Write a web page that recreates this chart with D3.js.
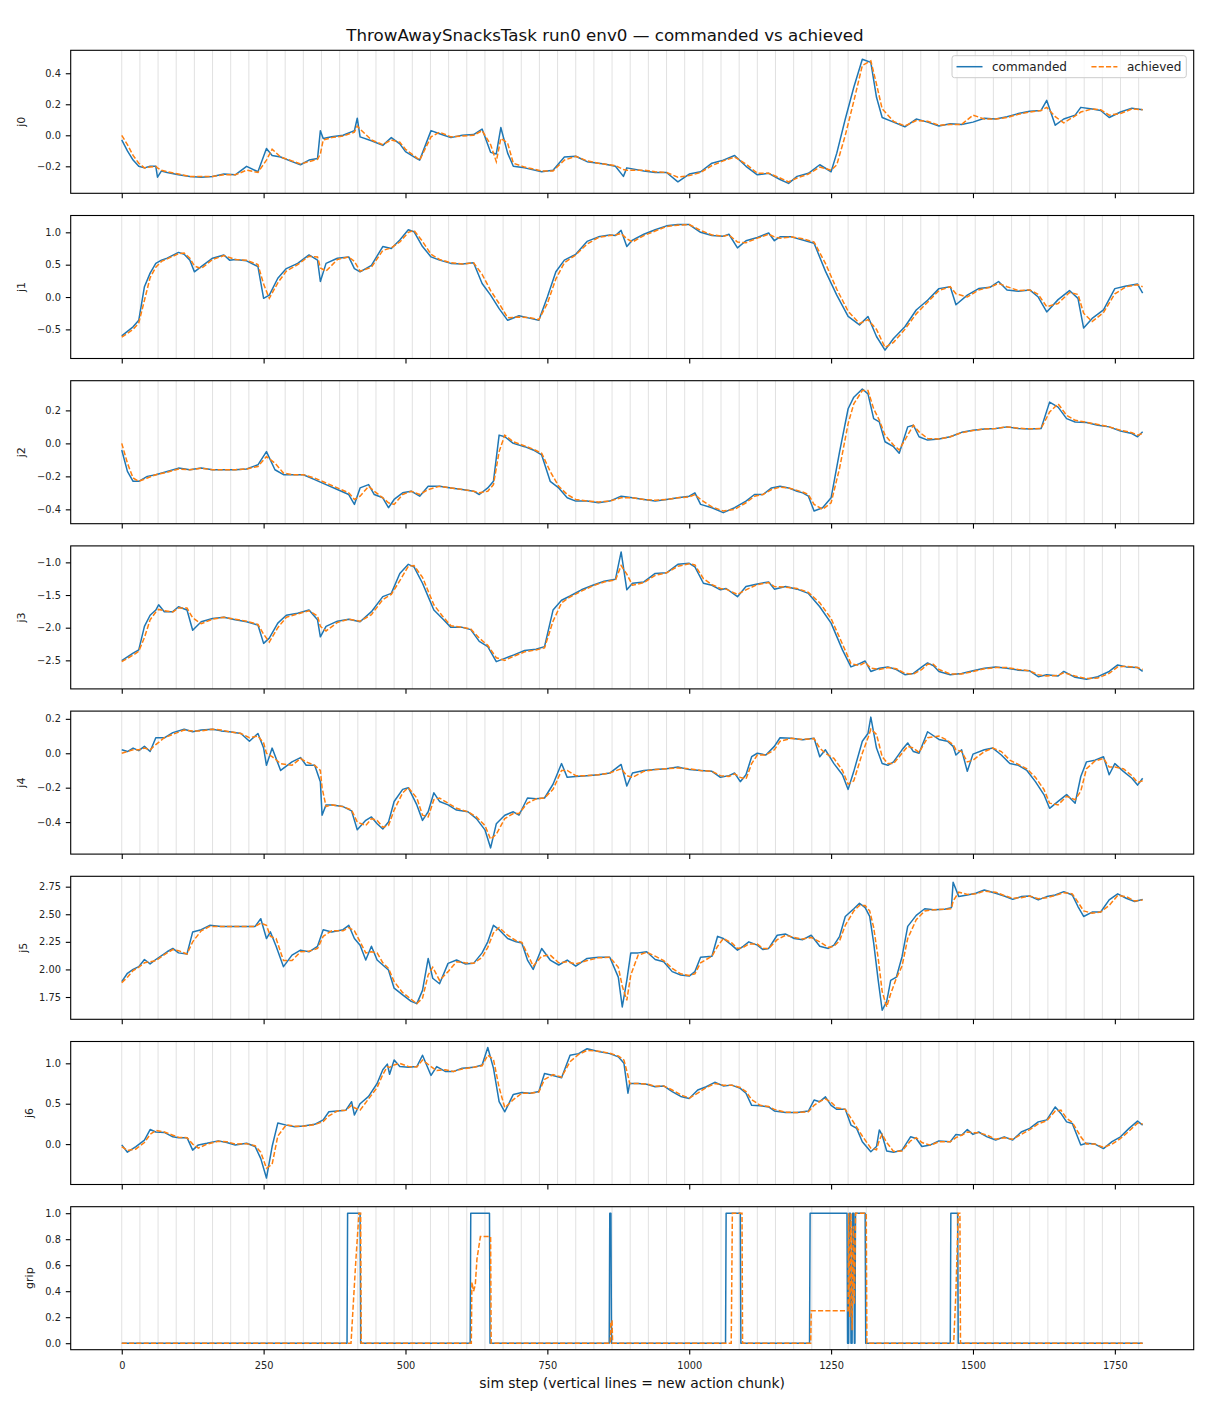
<!DOCTYPE html>
<html>
<head>
<meta charset="utf-8">
<script src="https://cdn.jsdelivr.net/npm/d3@7"></script>
<style>
  body { margin: 0; background: #fff; }
  svg { display: block; font-family: "DejaVu Sans", sans-serif; }
</style>
</head>
<body>
<div id="chart"></div>
<script>
// ---- data (sim step -> joint value) ----
const j0Steps = [0,10,20,30,40,50,60,63,70,80,
  100,120,140,160,180,200,220,240,255,265,
  280,300,315,330,345,350,355,370,390,410,
  415,420,440,460,475,490,500,520,525,545,
  560,580,600,620,635,650,660,668,680,690,
  710,740,760,780,800,820,840,850,870,884,
  890,920,940,960,980,1000,1020,1040,1060,1080,
  1100,1120,1140,1160,1175,1190,1210,1230,1250,1260,
  1275,1290,1305,1320,1330,1340,1360,1380,1400,1420,
  1440,1460,1480,1500,1520,1540,1560,1580,1600,1620,
  1630,1645,1660,1680,1690,1710,1725,1740,1760,1780,
  1799];
const j0Cmd = [-0.03,-0.10,-0.16,-0.20,-0.21,-0.20,-0.20,-0.27,-0.23,-0.24,
  -0.255,-0.265,-0.27,-0.265,-0.25,-0.255,-0.20,-0.235,-0.085,-0.13,
  -0.14,-0.17,-0.19,-0.16,-0.15,0.03,-0.02,-0.01,0.0,0.03,
  0.11,-0.01,-0.035,-0.065,-0.015,-0.055,-0.105,-0.15,-0.16,0.03,
  0.01,-0.015,0.0,0.005,0.04,-0.11,-0.12,0.05,-0.115,-0.20,
  -0.21,-0.235,-0.225,-0.14,-0.135,-0.17,-0.18,-0.185,-0.20,-0.265,
  -0.21,-0.23,-0.24,-0.24,-0.30,-0.25,-0.235,-0.18,-0.16,-0.13,
  -0.20,-0.255,-0.245,-0.285,-0.31,-0.265,-0.245,-0.19,-0.235,-0.115,
  0.105,0.31,0.49,0.47,0.245,0.115,0.085,0.055,0.105,0.085,
  0.06,0.075,0.07,0.085,0.11,0.105,0.12,0.14,0.155,0.16,
  0.225,0.065,0.105,0.13,0.18,0.17,0.16,0.115,0.15,0.175,
  0.165];
const j0Ach = [0.0,-0.06,-0.13,-0.18,-0.21,-0.205,-0.20,-0.21,-0.225,-0.235,
  -0.25,-0.265,-0.265,-0.265,-0.255,-0.255,-0.225,-0.24,-0.16,-0.09,
  -0.14,-0.165,-0.185,-0.17,-0.155,-0.12,-0.03,-0.015,-0.005,0.02,
  0.06,0.04,-0.03,-0.06,-0.03,-0.045,-0.09,-0.145,-0.16,-0.01,
  0.02,-0.01,-0.005,0.0,0.03,-0.06,-0.17,-0.02,-0.05,-0.18,
  -0.205,-0.23,-0.23,-0.16,-0.135,-0.165,-0.18,-0.185,-0.195,-0.22,
  -0.225,-0.225,-0.235,-0.24,-0.27,-0.26,-0.24,-0.195,-0.165,-0.14,
  -0.185,-0.245,-0.245,-0.275,-0.30,-0.275,-0.25,-0.205,-0.225,-0.19,
  0.0,0.22,0.45,0.48,0.33,0.17,0.09,0.06,0.095,0.09,
  0.065,0.07,0.07,0.13,0.105,0.105,0.115,0.135,0.15,0.16,
  0.18,0.12,0.08,0.125,0.15,0.17,0.165,0.13,0.14,0.17,
  0.165];

const j1Steps = [0,20,30,40,50,60,70,80,100,110,
  120,128,140,160,180,190,200,220,240,250,
  260,275,290,310,330,345,350,360,380,400,
  410,420,440,460,475,490,505,515,530,545,
  560,580,600,620,635,650,665,680,700,720,
  735,750,765,780,800,820,840,860,870,880,
  890,900,920,940,960,980,1000,1020,1040,1060,
  1070,1085,1100,1120,1140,1150,1160,1180,1200,1220,
  1240,1260,1280,1300,1315,1330,1345,1360,1380,1400,
  1420,1440,1460,1470,1490,1510,1530,1545,1560,1580,
  1600,1615,1630,1650,1670,1685,1695,1710,1730,1750,
  1770,1790,1799];
const j1Cmd = [-0.60,-0.46,-0.36,0.16,0.37,0.52,0.57,0.60,0.69,0.66,
  0.57,0.39,0.47,0.60,0.65,0.57,0.58,0.56,0.47,-0.02,
  0.03,0.29,0.44,0.52,0.65,0.57,0.24,0.52,0.60,0.62,
  0.44,0.39,0.49,0.78,0.75,0.88,1.04,1.01,0.78,0.62,
  0.57,0.52,0.51,0.53,0.21,0.03,-0.18,-0.36,-0.29,-0.33,
  -0.36,0.0,0.39,0.57,0.66,0.86,0.93,0.96,0.95,1.03,
  0.78,0.88,0.97,1.04,1.10,1.12,1.12,1.00,0.95,0.94,
  0.97,0.76,0.87,0.92,0.99,0.87,0.93,0.93,0.88,0.83,
  0.40,0.03,-0.30,-0.43,-0.30,-0.61,-0.82,-0.64,-0.46,-0.20,
  -0.05,0.13,0.16,-0.12,0.03,0.13,0.15,0.24,0.11,0.09,
  0.11,0.0,-0.23,-0.04,0.10,-0.02,-0.48,-0.33,-0.20,0.13,
  0.17,0.20,0.06];
const j1Ach = [-0.62,-0.50,-0.40,-0.05,0.30,0.46,0.55,0.59,0.67,0.68,
  0.60,0.48,0.44,0.58,0.64,0.61,0.58,0.57,0.50,0.20,
  -0.02,0.22,0.40,0.50,0.63,0.62,0.45,0.40,0.58,0.62,
  0.55,0.40,0.46,0.72,0.76,0.85,1.00,1.03,0.86,0.66,
  0.58,0.53,0.51,0.53,0.35,0.10,-0.10,-0.32,-0.31,-0.32,
  -0.35,-0.10,0.28,0.53,0.65,0.82,0.92,0.95,0.96,0.98,
  0.90,0.85,0.95,1.02,1.09,1.11,1.12,1.03,0.96,0.94,
  0.96,0.85,0.84,0.91,0.97,0.93,0.91,0.93,0.90,0.85,
  0.52,0.12,-0.22,-0.41,-0.35,-0.50,-0.78,-0.70,-0.50,-0.26,
  -0.08,0.10,0.16,0.05,0.00,0.11,0.15,0.21,0.16,0.10,
  0.11,0.04,-0.15,-0.10,0.07,0.04,-0.25,-0.38,-0.24,0.05,
  0.16,0.19,0.16];

const j2Steps = [0,10,20,30,45,60,80,100,120,140,
  160,180,200,220,240,255,270,285,300,320,
  340,360,380,400,410,420,435,445,460,470,
  480,495,510,525,540,560,580,600,620,630,
  645,655,665,675,690,710,725,740,755,770,
  785,800,820,840,860,880,900,920,940,960,
  980,1000,1010,1020,1040,1060,1080,1100,1115,1130,
  1145,1160,1175,1190,1200,1210,1220,1235,1250,1265,
  1280,1290,1305,1315,1325,1335,1345,1360,1370,1385,
  1395,1405,1420,1440,1460,1480,1500,1520,1540,1560,
  1580,1600,1620,1635,1650,1665,1680,1700,1720,1740,
  1760,1780,1790,1799];
const j2Cmd = [-0.04,-0.17,-0.23,-0.23,-0.20,-0.19,-0.17,-0.15,-0.16,-0.15,
  -0.16,-0.16,-0.16,-0.155,-0.13,-0.05,-0.16,-0.19,-0.19,-0.19,
  -0.22,-0.25,-0.28,-0.31,-0.37,-0.27,-0.25,-0.31,-0.33,-0.39,
  -0.34,-0.30,-0.29,-0.32,-0.26,-0.26,-0.27,-0.28,-0.29,-0.31,
  -0.27,-0.23,0.05,0.04,0.0,-0.02,-0.04,-0.07,-0.23,-0.27,
  -0.33,-0.35,-0.35,-0.36,-0.35,-0.32,-0.33,-0.34,-0.35,-0.34,
  -0.33,-0.32,-0.30,-0.37,-0.39,-0.42,-0.39,-0.35,-0.31,-0.31,
  -0.27,-0.26,-0.27,-0.29,-0.30,-0.32,-0.41,-0.39,-0.33,-0.05,
  0.21,0.28,0.33,0.30,0.15,0.13,0.01,-0.02,-0.06,0.10,
  0.11,0.04,0.02,0.026,0.04,0.067,0.08,0.087,0.09,0.10,
  0.09,0.087,0.09,0.25,0.22,0.15,0.13,0.127,0.11,0.10,
  0.075,0.06,0.04,0.07];
const j2Ach = [0.0,-0.12,-0.21,-0.23,-0.21,-0.19,-0.175,-0.155,-0.16,-0.15,
  -0.16,-0.16,-0.16,-0.155,-0.14,-0.08,-0.12,-0.18,-0.19,-0.19,
  -0.21,-0.24,-0.27,-0.30,-0.34,-0.32,-0.26,-0.29,-0.33,-0.36,
  -0.37,-0.31,-0.29,-0.31,-0.28,-0.26,-0.27,-0.28,-0.29,-0.30,
  -0.29,-0.25,-0.05,0.05,0.01,-0.015,-0.035,-0.06,-0.17,-0.26,
  -0.31,-0.34,-0.35,-0.355,-0.35,-0.33,-0.33,-0.34,-0.345,-0.34,
  -0.33,-0.325,-0.31,-0.34,-0.385,-0.41,-0.40,-0.36,-0.32,-0.31,
  -0.28,-0.265,-0.27,-0.285,-0.295,-0.31,-0.37,-0.40,-0.36,-0.15,
  0.12,0.24,0.32,0.32,0.21,0.14,0.05,-0.01,-0.04,0.05,
  0.11,0.07,0.03,0.026,0.04,0.065,0.078,0.087,0.09,0.10,
  0.092,0.088,0.09,0.19,0.24,0.17,0.14,0.128,0.115,0.10,
  0.08,0.065,0.05,0.06];

const j3Steps = [0,20,30,40,50,60,65,75,90,100,
  115,125,140,160,180,200,220,240,250,260,
  275,290,310,330,345,350,360,380,400,420,
  440,460,475,490,505,515,530,540,550,565,
  580,600,615,630,645,660,675,690,710,730,
  745,760,775,790,810,830,850,870,880,890,
  900,920,940,960,980,1000,1010,1025,1040,1055,
  1065,1085,1100,1120,1140,1150,1170,1190,1210,1230,
  1250,1270,1285,1300,1310,1320,1335,1350,1365,1380,
  1395,1410,1420,1430,1440,1460,1480,1500,1520,1540,
  1560,1580,1600,1615,1630,1650,1660,1680,1700,1720,
  1740,1755,1770,1790,1799];
const j3Cmd = [-2.505,-2.39,-2.34,-1.98,-1.81,-1.73,-1.65,-1.755,-1.755,-1.68,
  -1.73,-2.04,-1.91,-1.86,-1.84,-1.88,-1.91,-1.96,-2.24,-2.16,
  -1.93,-1.81,-1.78,-1.73,-1.88,-2.14,-1.98,-1.90,-1.87,-1.91,
  -1.755,-1.525,-1.475,-1.17,-1.03,-1.07,-1.32,-1.525,-1.73,-1.86,
  -1.995,-1.995,-2.03,-2.21,-2.29,-2.52,-2.47,-2.42,-2.35,-2.33,
  -2.29,-1.73,-1.58,-1.515,-1.42,-1.35,-1.29,-1.26,-0.84,-1.42,
  -1.32,-1.30,-1.17,-1.16,-1.03,-1.015,-1.07,-1.32,-1.35,-1.42,
  -1.40,-1.525,-1.37,-1.33,-1.30,-1.41,-1.37,-1.41,-1.475,-1.68,
  -1.93,-2.34,-2.60,-2.55,-2.51,-2.67,-2.62,-2.60,-2.64,-2.72,
  -2.70,-2.60,-2.54,-2.58,-2.67,-2.72,-2.70,-2.66,-2.62,-2.60,
  -2.62,-2.65,-2.66,-2.75,-2.72,-2.74,-2.67,-2.76,-2.79,-2.75,
  -2.67,-2.57,-2.60,-2.61,-2.67];
const j3Ach = [-2.52,-2.42,-2.36,-2.15,-1.88,-1.76,-1.72,-1.74,-1.76,-1.70,
  -1.70,-1.85,-1.94,-1.87,-1.84,-1.87,-1.90,-1.95,-2.10,-2.22,
  -2.00,-1.84,-1.79,-1.74,-1.82,-1.98,-2.05,-1.92,-1.87,-1.90,
  -1.80,-1.57,-1.49,-1.28,-1.06,-1.05,-1.23,-1.44,-1.65,-1.82,
  -1.97,-1.995,-2.02,-2.16,-2.27,-2.46,-2.50,-2.44,-2.37,-2.34,
  -2.31,-1.90,-1.62,-1.53,-1.44,-1.36,-1.30,-1.27,-1.05,-1.18,
  -1.35,-1.31,-1.20,-1.16,-1.06,-1.02,-1.04,-1.25,-1.34,-1.40,
  -1.41,-1.49,-1.42,-1.34,-1.31,-1.37,-1.38,-1.40,-1.46,-1.62,
  -1.86,-2.25,-2.55,-2.58,-2.53,-2.62,-2.64,-2.61,-2.63,-2.70,
  -2.71,-2.64,-2.56,-2.56,-2.64,-2.71,-2.71,-2.67,-2.63,-2.61,
  -2.61,-2.64,-2.66,-2.72,-2.74,-2.73,-2.69,-2.74,-2.78,-2.77,
  -2.70,-2.60,-2.59,-2.61,-2.64];

const j4Steps = [0,10,20,30,40,50,60,75,90,110,
  125,140,160,175,190,210,225,240,250,255,
  265,280,300,315,325,340,350,353,360,370,
  390,405,415,430,440,450,460,470,480,495,
  505,520,530,540,550,560,575,590,610,625,
  640,650,660,675,690,700,715,730,745,760,
  775,785,800,820,840,860,880,890,900,920,
  940,960,980,1000,1020,1040,1055,1070,1080,1090,
  1100,1110,1120,1135,1150,1160,1180,1200,1220,1230,
  1240,1255,1270,1280,1290,1305,1315,1320,1330,1340,
  1350,1360,1375,1385,1395,1405,1420,1440,1455,1465,
  1470,1480,1490,1500,1520,1535,1550,1565,1580,1595,
  1610,1625,1635,1650,1665,1680,1690,1700,1715,1730,
  1740,1750,1765,1780,1790,1799];
const j4Cmd = [0.02,0.01,0.03,0.015,0.04,0.01,0.09,0.09,0.12,0.14,
  0.125,0.135,0.14,0.13,0.125,0.115,0.07,0.115,0.03,-0.07,
  0.03,-0.10,-0.05,-0.025,-0.07,-0.07,-0.165,-0.36,-0.30,-0.30,
  -0.31,-0.335,-0.445,-0.39,-0.37,-0.41,-0.44,-0.40,-0.28,-0.21,
  -0.20,-0.30,-0.39,-0.34,-0.23,-0.28,-0.30,-0.33,-0.34,-0.38,
  -0.445,-0.55,-0.41,-0.36,-0.34,-0.36,-0.26,-0.265,-0.26,-0.18,
  -0.06,-0.14,-0.135,-0.13,-0.125,-0.115,-0.065,-0.19,-0.115,-0.10,
  -0.095,-0.09,-0.08,-0.095,-0.10,-0.105,-0.14,-0.13,-0.115,-0.165,
  -0.125,-0.02,0.0,-0.01,0.04,0.09,0.087,0.078,0.087,-0.02,
  0.02,-0.06,-0.125,-0.21,-0.105,0.07,0.115,0.21,0.03,-0.06,
  -0.07,-0.05,0.02,0.06,0.01,0.0,0.125,0.08,0.07,0.04,
  -0.01,0.02,-0.105,-0.005,0.02,0.03,-0.01,-0.06,-0.07,-0.10,
  -0.165,-0.24,-0.32,-0.28,-0.24,-0.29,-0.135,-0.05,-0.04,-0.02,
  -0.125,-0.06,-0.105,-0.145,-0.185,-0.145];
const j4Ach = [0.0,0.01,0.02,0.02,0.03,0.02,0.05,0.09,0.11,0.135,
  0.13,0.13,0.14,0.135,0.125,0.115,0.09,0.10,0.06,0.0,
  -0.02,-0.06,-0.07,-0.03,-0.05,-0.07,-0.10,-0.20,-0.31,-0.30,
  -0.31,-0.33,-0.40,-0.42,-0.38,-0.39,-0.43,-0.42,-0.33,-0.23,
  -0.20,-0.26,-0.36,-0.37,-0.27,-0.26,-0.29,-0.32,-0.34,-0.37,
  -0.42,-0.50,-0.47,-0.38,-0.35,-0.35,-0.29,-0.265,-0.26,-0.21,
  -0.10,-0.10,-0.13,-0.13,-0.125,-0.115,-0.09,-0.13,-0.14,-0.105,
  -0.095,-0.09,-0.085,-0.09,-0.10,-0.105,-0.13,-0.135,-0.12,-0.14,
  -0.15,-0.06,-0.01,-0.01,0.02,0.07,0.087,0.08,0.085,0.03,
  0.0,-0.03,-0.10,-0.18,-0.16,0.0,0.09,0.14,0.11,-0.02,
  -0.06,-0.06,0.0,0.04,0.03,0.005,0.09,0.10,0.075,0.05,
  0.02,0.01,-0.05,-0.04,0.01,0.03,0.01,-0.04,-0.065,-0.09,
  -0.14,-0.21,-0.29,-0.30,-0.25,-0.27,-0.22,-0.09,-0.045,-0.03,
  -0.08,-0.08,-0.09,-0.13,-0.17,-0.16];

const j5Steps = [0,10,20,30,40,50,60,80,90,100,
  115,125,140,155,175,195,215,235,245,255,
  262,272,285,300,315,330,345,355,370,390,
  400,410,420,430,440,450,460,470,480,495,
  510,520,530,540,548,560,575,590,605,620,
  635,645,655,665,680,695,705,715,725,740,
  755,770,785,800,820,840,860,875,882,890,
  897,910,925,940,955,970,985,1000,1010,1020,
  1040,1050,1060,1075,1085,1095,1105,1120,1130,1140,
  1155,1170,1185,1200,1215,1230,1245,1255,1265,1275,
  1290,1300,1310,1318,1325,1333,1340,1348,1355,1365,
  1375,1385,1400,1415,1430,1450,1462,1465,1475,1490,
  1505,1520,1540,1555,1570,1585,1600,1615,1630,1645,
  1660,1675,1685,1695,1710,1725,1740,1755,1770,1785,
  1799];
const j5Cmd = [1.89,1.965,2.00,2.025,2.09,2.05,2.09,2.16,2.19,2.15,
  2.14,2.34,2.36,2.40,2.39,2.39,2.39,2.39,2.46,2.28,
  2.34,2.21,2.025,2.13,2.175,2.16,2.21,2.36,2.34,2.36,
  2.40,2.28,2.22,2.085,2.21,2.085,2.04,1.995,1.83,1.77,
  1.71,1.69,1.81,2.10,1.92,1.87,2.055,2.085,2.05,2.055,
  2.15,2.25,2.40,2.36,2.28,2.25,2.24,2.085,2.00,2.19,
  2.085,2.04,2.085,2.03,2.10,2.11,2.11,1.93,1.66,1.90,
  2.15,2.15,2.16,2.09,2.07,1.98,1.95,1.94,1.98,2.11,
  2.12,2.30,2.28,2.22,2.175,2.21,2.25,2.22,2.18,2.19,
  2.31,2.32,2.28,2.27,2.31,2.21,2.19,2.22,2.30,2.48,
  2.55,2.60,2.56,2.48,2.24,1.90,1.63,1.71,1.90,1.93,
  2.115,2.39,2.49,2.55,2.54,2.545,2.56,2.79,2.66,2.675,
  2.69,2.72,2.69,2.665,2.635,2.66,2.665,2.63,2.66,2.675,
  2.705,2.675,2.57,2.48,2.52,2.52,2.63,2.685,2.645,2.615,
  2.635];
const j5Ach = [1.88,1.93,1.99,2.02,2.06,2.07,2.08,2.15,2.18,2.17,
  2.14,2.25,2.35,2.39,2.39,2.39,2.39,2.39,2.42,2.40,
  2.30,2.28,2.08,2.08,2.16,2.165,2.19,2.30,2.35,2.35,
  2.38,2.35,2.25,2.15,2.16,2.15,2.06,2.01,1.89,1.79,
  1.73,1.69,1.74,1.95,2.02,1.90,1.98,2.07,2.06,2.055,
  2.11,2.20,2.33,2.38,2.31,2.26,2.245,2.14,2.03,2.12,
  2.13,2.06,2.07,2.05,2.08,2.105,2.11,2.02,1.85,1.72,
  1.95,2.13,2.155,2.12,2.08,2.01,1.96,1.945,1.96,2.06,
  2.12,2.21,2.28,2.24,2.19,2.20,2.23,2.23,2.19,2.19,
  2.27,2.31,2.29,2.275,2.29,2.25,2.20,2.21,2.26,2.40,
  2.53,2.58,2.58,2.53,2.38,2.10,1.80,1.66,1.78,1.92,
  2.03,2.28,2.45,2.53,2.54,2.545,2.55,2.62,2.70,2.68,
  2.685,2.71,2.70,2.67,2.645,2.65,2.665,2.64,2.65,2.67,
  2.695,2.685,2.61,2.53,2.51,2.52,2.58,2.67,2.66,2.62,
  2.63];

const j6Steps = [0,10,25,40,50,60,75,90,100,115,
  125,135,150,170,185,200,220,235,245,255,
  265,275,290,305,320,340,355,365,380,395,
  405,410,420,435,450,460,468,472,480,490,
  505,520,530,545,555,570,585,600,620,635,
  645,655,665,675,690,705,720,735,745,760,
  775,790,805,820,840,860,875,885,892,895,
  910,925,940,955,970,985,1000,1015,1030,1045,
  1060,1075,1090,1100,1110,1125,1140,1150,1170,1190,
  1210,1220,1230,1240,1250,1260,1275,1285,1295,1305,
  1320,1330,1335,1340,1348,1360,1375,1390,1400,1410,
  1425,1440,1460,1470,1480,1490,1500,1510,1525,1540,
  1555,1570,1585,1600,1615,1630,1645,1655,1665,1675,
  1690,1700,1715,1730,1745,1760,1775,1790,1799];
const j6Cmd = [-0.01,-0.10,-0.03,0.05,0.18,0.15,0.145,0.09,0.08,0.08,
  -0.075,-0.01,0.01,0.04,0.02,-0.01,0.01,-0.03,-0.18,-0.42,
  -0.03,0.26,0.235,0.215,0.225,0.245,0.30,0.40,0.41,0.42,
  0.525,0.36,0.50,0.59,0.75,0.92,0.99,0.865,1.04,0.96,
  0.95,0.96,1.10,0.85,0.96,0.90,0.90,0.94,0.95,0.98,
  1.195,0.94,0.525,0.40,0.615,0.64,0.63,0.65,0.875,0.85,
  0.82,1.10,1.12,1.18,1.145,1.12,1.08,1.00,0.63,0.75,
  0.75,0.74,0.71,0.72,0.65,0.59,0.565,0.67,0.71,0.765,
  0.72,0.73,0.69,0.63,0.48,0.475,0.46,0.41,0.39,0.39,
  0.41,0.545,0.525,0.585,0.48,0.43,0.43,0.235,0.195,0.03,
  -0.095,-0.03,0.175,0.11,-0.085,-0.10,-0.075,0.09,0.07,-0.03,
  -0.01,0.04,0.03,0.12,0.11,0.18,0.12,0.15,0.09,0.05,
  0.09,0.05,0.15,0.195,0.275,0.30,0.46,0.38,0.275,0.255,
  -0.01,0.01,0.0,-0.055,0.03,0.09,0.195,0.285,0.235];
const j6Ach = [-0.03,-0.08,-0.06,0.02,0.12,0.17,0.15,0.11,0.085,0.08,
  0.0,-0.05,0.0,0.035,0.03,0.0,0.005,-0.02,-0.10,-0.30,
  -0.25,0.10,0.24,0.22,0.22,0.24,0.28,0.35,0.41,0.42,
  0.48,0.45,0.42,0.56,0.70,0.86,0.96,0.95,0.98,1.00,
  0.96,0.955,1.04,0.96,0.91,0.92,0.90,0.93,0.95,0.97,
  1.10,1.05,0.70,0.45,0.55,0.63,0.63,0.645,0.80,0.86,
  0.83,1.02,1.11,1.16,1.15,1.125,1.09,1.04,0.85,0.75,
  0.75,0.745,0.715,0.72,0.67,0.61,0.57,0.63,0.70,0.75,
  0.73,0.73,0.70,0.65,0.55,0.48,0.465,0.43,0.395,0.39,
  0.40,0.48,0.53,0.56,0.52,0.45,0.43,0.32,0.21,0.10,
  -0.05,-0.07,0.05,0.12,0.02,-0.09,-0.085,0.04,0.08,0.02,
  -0.015,0.03,0.03,0.08,0.11,0.15,0.14,0.14,0.11,0.06,
  0.08,0.06,0.12,0.18,0.25,0.29,0.41,0.42,0.32,0.27,
  0.09,0.0,0.0,-0.04,0.0,0.07,0.16,0.26,0.25];

// gripper: change points of the open/close signal
const gripCmdSteps = [0,397,398,420,421,614,615,648,649,859,860,862,863,1064,1065,1090,1091,
  1212,1213,1278,1279,1281,1282,1284,1285,1287,1288,1290,1291,1292,1293,1310,1311,1460,1461,1473,1474,1799];
const gripCmd = [0,0,1,1,0,0,1,1,0,0,1,1,0,0,1,1,0,
  0,1,1,0,0,1,1,0,0,1,1,0,0,1,1,0,0,1,1,0,0];
const gripAchSteps = [0,404,412,418,421,422,616,617,620,623,626,632,640,650,651,861,862,864,865,
  1074,1076,1093,1094,1214,1215,1280,1281,1283,1285,1287,1289,1291,1293,1295,1312,1313,
  1466,1470,1474,1477,1478,1799];
const gripAch = [0,0,0.6,1,1,0,0,0.47,0.40,0.45,0.65,0.82,0.82,0.82,0,0,0.17,0.17,0,
  0,1,1,0,0,0.25,0.25,1,0.2,1,0.1,0.9,0.3,1,1,1,0,
  0,0.4,1,1,0,0];

// first step of each action chunk
const chunkStarts = [0,32,64,96,128,160,192,224,256,288,320,352,384,416,448,480,512,544,576,608,
  640,672,704,736,768,800,832,864,896,928,960,992,1024,1056,1088,1120,1152,1184,1216,1248,
  1280,1312,1344,1376,1408,1440,1472,1504,1536,1568,1600,1632,1664,1696,1728,1760,1792];

const xTicks = [0,250,500,750,1000,1250,1500,1750];

const panels = [
  { name: "j0", cs: j0Steps, cmd: j0Cmd, as: j0Steps, ach: j0Ach, domain: [-0.374, 0.548], ticks: [-0.2, 0, 0.2, 0.4], fmt: ".1f" },
  { name: "j1", cs: j1Steps, cmd: j1Cmd, as: j1Steps, ach: j1Ach, domain: [-0.95, 1.26], ticks: [-0.5, 0, 0.5, 1.0], fmt: ".1f" },
  { name: "j2", cs: j2Steps, cmd: j2Cmd, as: j2Steps, ach: j2Ach, domain: [-0.487, 0.38], ticks: [-0.4, -0.2, 0, 0.2], fmt: ".1f" },
  { name: "j3", cs: j3Steps, cmd: j3Cmd, as: j3Steps, ach: j3Ach, domain: [-2.937, -0.748], ticks: [-2.5, -2.0, -1.5, -1.0], fmt: ".1f" },
  { name: "j4", cs: j4Steps, cmd: j4Cmd, as: j4Steps, ach: j4Ach, domain: [-0.586, 0.245], ticks: [-0.4, -0.2, 0, 0.2], fmt: ".1f" },
  { name: "j5", cs: j5Steps, cmd: j5Cmd, as: j5Steps, ach: j5Ach, domain: [1.548, 2.844], ticks: [1.75, 2.0, 2.25, 2.5, 2.75], fmt: ".2f" },
  { name: "j6", cs: j6Steps, cmd: j6Cmd, as: j6Steps, ach: j6Ach, domain: [-0.50, 1.27], ticks: [0, 0.5, 1.0], fmt: ".1f" },
  { name: "grip", cs: gripCmdSteps, cmd: gripCmd, as: gripAchSteps, ach: gripAch, domain: [-0.05, 1.05], ticks: [0, 0.2, 0.4, 0.6, 0.8, 1.0], fmt: ".1f" }
];

// ---- layout ----
const W = 1210, H = 1408;
const axLeft = 70.7, axRight = 1193.7;
const axTop = 50.3, axPitch = 165.2, axH = 143;
const blue = "#1f77b4", orange = "#ff7f0e";
const tickLen = 4.9, tickFont = 9.8;

const svg = d3.select("#chart").append("svg")
  .attr("width", W).attr("height", H)
  .attr("viewBox", `0 0 ${W} ${H}`);

svg.append("rect").attr("width", W).attr("height", H).attr("fill", "#fff");

const x = d3.scaleLinear().domain([-89.95, 1888.95]).range([axLeft, axRight]);

panels.forEach((p, i) => {
  const top = axTop + i * axPitch;
  const bottom = top + axH;
  const last = i === panels.length - 1;
  const y = d3.scaleLinear().domain(p.domain).range([bottom, top]);
  const g = svg.append("g").attr("class", "panel-" + p.name);

  svg.append("clipPath").attr("id", "clip" + i)
    .append("rect")
    .attr("x", axLeft).attr("y", top)
    .attr("width", axRight - axLeft).attr("height", axH);

  const plot = g.append("g").attr("clip-path", `url(#clip${i})`);

  // chunk boundaries
  plot.selectAll("line.chunk")
    .data(chunkStarts)
    .join("line")
    .attr("class", "chunk")
    .attr("x1", (d) => x(d)).attr("x2", (d) => x(d))
    .attr("y1", top).attr("y2", bottom)
    .attr("stroke", "#d9d9d9")
    .attr("stroke-width", 0.8);

  const line = d3.line().x((d) => x(d[0])).y((d) => y(d[1]));

  plot.append("path")
    .datum(d3.zip(p.cs, p.cmd))
    .attr("d", line)
    .attr("fill", "none")
    .attr("stroke", blue)
    .attr("stroke-width", 1.5)
    .attr("stroke-linejoin", "round");

  plot.append("path")
    .datum(d3.zip(p.as, p.ach))
    .attr("d", line)
    .attr("fill", "none")
    .attr("stroke", orange)
    .attr("stroke-width", 1.5)
    .attr("stroke-dasharray", "5.1,2.2");

  // y axis
  const ya = g.append("g")
    .attr("transform", `translate(${axLeft},0)`)
    .call(d3.axisLeft(y).tickValues(p.ticks).tickFormat(d3.format(p.fmt))
      .tickSize(tickLen).tickPadding(4.9));
  ya.attr("font-size", tickFont).attr("font-family", null);
  ya.select(".domain").remove();
  ya.selectAll(".tick line").attr("stroke", "#000").attr("stroke-width", 1.1);
  ya.selectAll(".tick text").attr("fill", "#222");

  // x axis (labels only on the bottom panel)
  const xa = g.append("g")
    .attr("transform", `translate(0,${bottom})`)
    .call(d3.axisBottom(x).tickValues(xTicks)
      .tickFormat(last ? d3.format("d") : () => "")
      .tickSize(tickLen).tickPadding(4.9));
  xa.attr("font-size", tickFont).attr("font-family", null);
  xa.select(".domain").remove();
  xa.selectAll(".tick line").attr("stroke", "#000").attr("stroke-width", 1.1);
  xa.selectAll(".tick text").attr("fill", "#222").attr("dy", "0.95em");

  // frame
  g.append("rect")
    .attr("x", axLeft).attr("y", top)
    .attr("width", axRight - axLeft).attr("height", axH)
    .attr("fill", "none")
    .attr("stroke", "#000")
    .attr("stroke-width", 1.1);

  // y label left of the tick labels (bbox is in the axis group's own coordinates)
  const bb = ya.node().getBBox();
  const labFont = 11.1;
  const lx = axLeft + bb.x - 9.7 - 0.24 * labFont;
  const ly = (top + bottom) / 2;
  g.append("text")
    .attr("transform", `translate(${lx},${ly}) rotate(-90)`)
    .attr("text-anchor", "middle")
    .attr("font-size", labFont)
    .attr("fill", "#222")
    .text(p.name);

  if (i === 0) drawLegend(g, top);
});

function drawLegend(g, top) {
  const fs = 12;
  const items = [
    { label: "commanded", color: blue, dash: null },
    { label: "achieved", color: orange, dash: "5.1,2.2" }
  ];
  const lg = g.append("g");
  const box = lg.append("rect");
  const pad = 4.5, handle = 26, textPad = 9.5, colSpace = 24.5;
  const h = 22;
  const cy = top + 5.4 + h / 2;

  // measure the labels first
  const texts = items.map((it) =>
    lg.append("text").attr("font-size", fs).attr("fill", "#222").text(it.label)
  );
  const widths = texts.map((t) => t.node().getComputedTextLength());
  const total = pad + items.length * (handle + textPad) + d3.sum(widths) + colSpace * (items.length - 1) + pad + 0.5;
  const x0 = axRight - 7.4 - total;

  box.attr("x", x0).attr("y", top + 5.4)
    .attr("width", total).attr("height", h)
    .attr("rx", 2.5)
    .attr("fill", "#fff").attr("fill-opacity", 0.8)
    .attr("stroke", "#cccccc").attr("stroke-width", 1);

  let cx = x0 + pad;
  items.forEach((it, k) => {
    lg.append("line")
      .attr("x1", cx).attr("x2", cx + handle)
      .attr("y1", cy).attr("y2", cy)
      .attr("stroke", it.color)
      .attr("stroke-width", 1.5)
      .attr("stroke-dasharray", it.dash);
    cx += handle + textPad;
    texts[k].attr("x", cx).attr("y", cy).attr("dy", "0.35em");
    texts[k].raise();
    cx += widths[k] + colSpace;
  });
}

// title and x label
svg.append("text")
  .attr("x", W / 2).attr("y", 40.5)
  .attr("text-anchor", "middle")
  .attr("font-size", 16.7)
  .attr("fill", "#111")
  .text("ThrowAwaySnacksTask run0 env0 — commanded vs achieved");

svg.append("text")
  .attr("x", (axLeft + axRight) / 2).attr("y", 1387.5)
  .attr("text-anchor", "middle")
  .attr("font-size", 13.9)
  .attr("fill", "#111")
  .text("sim step (vertical lines = new action chunk)");
</script>
</body>
</html>
